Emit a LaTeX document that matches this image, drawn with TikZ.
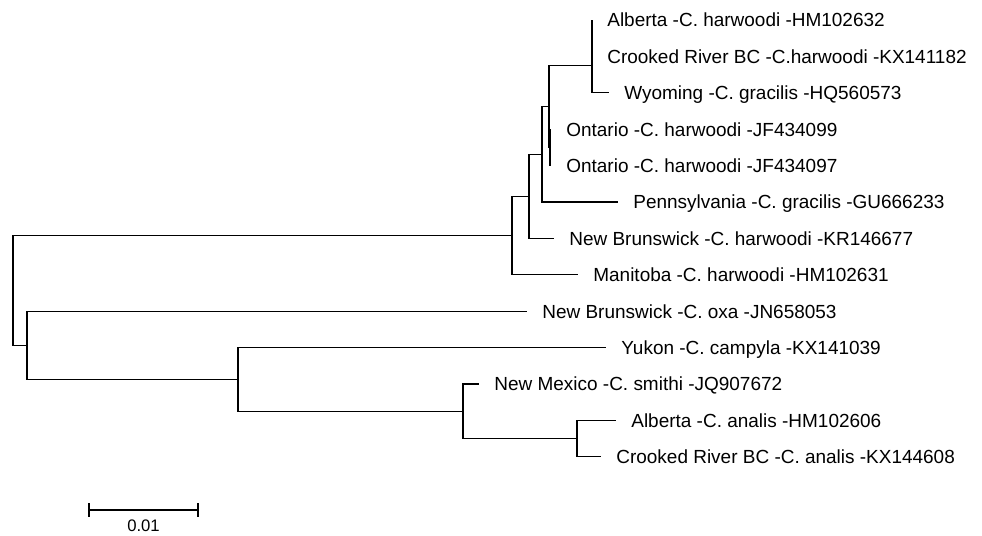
\documentclass[tikz,border=0pt]{standalone}
\usepackage{fontspec}
\setmainfont{Liberation Sans}
\tikzset{
  branch/.style={line width=0.6pt},
  zerobranch/.style={line width=1.4pt},
  taxon/.style={anchor=base west, inner sep=0pt, xshift=0.3cm, yshift=-0.136cm, font=\fontsize{10.8}{13}\selectfont},
}
\begin{document}
\begin{tikzpicture}[x=0.02cm,y=-0.02cm]
\useasboundingbox (0,0) rectangle (982,535);

% internal nodes
\coordinate (ac) at (592,38.2);
\coordinate (a) at (592,65.5);
\coordinate (o) at (550,147.4);
\coordinate (d) at (549,106.5);
\coordinate (e) at (542,154.2);
\coordinate (f) at (529,196.3);
\coordinate (g) at (512,235.6);
\coordinate (k) at (577,438.6);
\coordinate (j) at (463,411.3);
\coordinate (i) at (238,379.5);
\coordinate (h) at (27,345.3);
\coordinate (r) at (13,290.5);

% tips
\coordinate (alb) at (592,20);
\coordinate (crk) at (592,56.4);
\coordinate (wyo) at (609,92.8);
\coordinate (ont1) at (551,129.2);
\coordinate (ont2) at (551,165.6);
\coordinate (pen) at (618,202);
\coordinate (nbh) at (554,238.4);
\coordinate (man) at (578,274.8);
\coordinate (nbo) at (527,311.2);
\coordinate (yuk) at (606,347.6);
\coordinate (nmx) at (479,384);
\coordinate (alban) at (616,420.4);
\coordinate (crkan) at (601,456.8);

\node[taxon] (lalb) at (alb) {Alberta -C. harwoodi -HM102632};
\node[taxon] (lcrk) at (crk) {Crooked River BC -C.harwoodi -KX141182};
\node[taxon] (lwyo) at (wyo) {Wyoming -C. gracilis -HQ560573};
\node[taxon] (lont1) at (ont1) {Ontario -C. harwoodi -JF434099};
\node[taxon] (lont2) at (ont2) {Ontario -C. harwoodi -JF434097};
\node[taxon] (lpen) at (pen) {Pennsylvania -C. gracilis -GU666233};
\node[taxon] (lnbh) at (nbh) {New Brunswick -C. harwoodi -KR146677};
\node[taxon] (lman) at (man) {Manitoba -C. harwoodi -HM102631};
\node[taxon] (lnbo) at (nbo) {New Brunswick -C. oxa -JN658053};
\node[taxon] (lyuk) at (yuk) {Yukon -C. campyla -KX141039};
\node[taxon] (lnmx) at (nmx) {New Mexico -C. smithi -JQ907672};
\node[taxon] (lalban) at (alban) {Alberta -C. analis -HM102606};
\node[taxon] (lcrkan) at (crkan) {Crooked River BC -C. analis -KX144608};

\draw[branch] (ac) |- (alb) (ac) |- (crk);
\draw[zerobranch] (ac) -- (crk);
\draw[branch] (a) -- (ac) (a) |- (wyo);
\draw[branch] (o) |- (ont1) (o) |- (ont2);
\draw[zerobranch] (o |- ont1) -- (o |- ont2);
\draw[branch] (d) |- (a) (d) |- (o);
\draw[branch] (e) |- (d) (e) |- (pen);
\draw[branch] (f) |- (e) (f) |- (nbh);
\draw[branch] (g) |- (f) (g) |- (man);
\draw[branch] (r) |- (g) (r) |- (h);
\draw[branch] (h) |- (nbo) (h) |- (i);
\draw[branch] (i) |- (yuk) (i) |- (j);
\draw[branch] (j) |- (nmx) (j) |- (k);
\draw[branch] (k) |- (alban) (k) |- (crkan);

% scale bar
\coordinate (s0) at (89,510);
\coordinate (s1) at (198,510);
\draw[line width=0.8pt] (s0) -- (s1);
\draw[line width=0.8pt] (s0) ++(0,-7) -- ++(0,14);
\draw[line width=0.8pt] (s1) ++(0,-7) -- ++(0,14);
\node[anchor=north, inner sep=0pt, font=\fontsize{9.5}{11}\selectfont] (sclab) at (143.5,519.5) {0.01};

\end{tikzpicture}
\end{document}
